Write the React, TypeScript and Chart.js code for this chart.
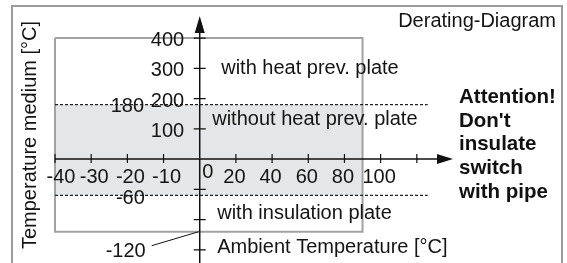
import React, { useEffect, useRef } from 'react';
import { Chart, registerables } from 'chart.js';

Chart.register(...registerables);

// ---- data ----
const xTickValues = [-40, -30, -20, -10, 20, 40, 60, 80, 100, 120];
const xTickLabels = ['-40', '-30', '-20', '-10', '20', '40', '60', '80', '100', ''];
const xOriginLabel = '0';
const yTickValues = [400, 300, 200, 100];
const yTickLabels = ['400', '300', '200', '100'];
const yMinorTickValues = [-50, -100, -150];
const bandLimits = [180, -60];
const bandLabels = ['180', '-60'];
const boxXRange = [-40, 90];
const boxYRange = [400, -120];
const boxBottomLabel = '-120';
const dashedXRange = [-40, 126];
const axisXRange = [-40, 140];
const axisYTop = 473;
const regionLabels = ['with heat prev. plate', 'without heat prev. plate', 'with insulation plate'];
const xAxisTitle = 'Ambient Temperature [°C]';
const yAxisTitle = 'Temperature medium [°C]';
const chartTitle = 'Derating-Diagram';
const warningLines = ['Attention!', "Don't", 'insulate', 'switch', 'with pipe'];

// schematic (non-linear) scale mapping of the drawing
const toPosX = (v: number) => (v < 0 ? v / 10 : v / 20);
const toPosY = (v: number) => (v >= 0 ? v / 100 : v / 50);

const FONT = "'Liberation Sans', Arial, sans-serif";
const TEXT = '#141414';
const FS = 20;

const drawPlugin = {
  id: 'derating',
  afterDatasetsDraw(chart: any) {
    const { ctx } = chart;
    const xs = chart.scales.x;
    const ys = chart.scales.y;
    const px = (v: number) => xs.getPixelForValue(toPosX(v));
    const py = (v: number) => ys.getPixelForValue(toPosY(v));
    const x0 = px(0);
    const y0 = py(0);
    ctx.save();
    // axes
    ctx.strokeStyle = '#111';
    ctx.fillStyle = '#111';
    ctx.lineWidth = 1.5;
    const xEnd = px(axisXRange[1]);
    const yTop = py(axisYTop);
    ctx.beginPath();
    ctx.moveTo(px(axisXRange[0]), y0);
    ctx.lineTo(xEnd - 14, y0);
    ctx.moveTo(x0, chart.height + 2);
    ctx.lineTo(x0, yTop + 14);
    ctx.stroke();
    // arrow heads
    ctx.beginPath();
    ctx.moveTo(xEnd, y0);
    ctx.lineTo(xEnd - 16, y0 - 5);
    ctx.lineTo(xEnd - 16, y0 + 5);
    ctx.closePath();
    ctx.fill();
    ctx.beginPath();
    ctx.moveTo(x0, yTop);
    ctx.lineTo(x0 - 5, yTop + 17);
    ctx.lineTo(x0 + 5, yTop + 17);
    ctx.closePath();
    ctx.fill();
    // ticks
    ctx.lineWidth = 1.2;
    ctx.beginPath();
    xTickValues.forEach((v) => {
      const x = px(v);
      ctx.moveTo(x, y0 - 5);
      ctx.lineTo(x, y0 + 4);
    });
    [...yTickValues, ...yMinorTickValues].forEach((v) => {
      const y = py(v);
      ctx.moveTo(x0 - 6, y);
      ctx.lineTo(x0 + 6, y);
    });
    ctx.stroke();
    // leader line for -120
    const yb = py(boxYRange[1]);
    ctx.lineWidth = 1;
    ctx.beginPath();
    ctx.moveTo(x0 - 48, yb + 14);
    ctx.lineTo(x0 - 1, yb);
    ctx.stroke();

    // tick labels
    ctx.fillStyle = TEXT;
    ctx.font = `${FS}px ${FONT}`;
    ctx.textBaseline = 'middle';
    xTickValues.forEach((v, i) => {
      const lbl = xTickLabels[i];
      if (!lbl) return;
      const x = px(v);
      ctx.textAlign = 'center';
      if (i === 0) {
        ctx.fillText(lbl, x + 6, y0 + 18.5);
      } else {
        ctx.fillText(lbl, v < 0 ? x + 3 : x - 1.5, y0 + 18.5);
      }
    });
    ctx.textAlign = 'center';
    ctx.fillText(xOriginLabel, x0 + 8, y0 + 13.5);
    ctx.textAlign = 'right';
    yTickValues.forEach((v, i) => {
      ctx.fillText(yTickLabels[i], x0 - 15.5, py(v) + 2.5);
    });
    // band labels
    ctx.textAlign = 'center';
    ctx.fillText(bandLabels[0], px(-20), py(bandLimits[0]) + 2);
    ctx.fillText(bandLabels[1], px(-20) + 3, py(bandLimits[1]) + 3);
    // -120
    ctx.textAlign = 'right';
    ctx.textBaseline = 'alphabetic';
    ctx.fillText(boxBottomLabel, x0 - 54, yb + 25);
    // region labels
    ctx.textAlign = 'left';
    ctx.fillText(regionLabels[0], x0 + 21.5, y0 - 85);
    ctx.fillText(regionLabels[1], x0 + 12.5, y0 - 34);
    ctx.fillText(regionLabels[2], x0 + 17.5, y0 + 60);
    ctx.fillText(xAxisTitle, x0 + 17.5, y0 + 94);
    ctx.restore();
  },
  afterDraw(chart: any) {
    const { ctx } = chart;
    ctx.save();
    // outer frame
    ctx.strokeStyle = '#9b9b9b';
    ctx.lineWidth = 2;
    ctx.strokeRect(12, 6, 550, chart.height + 20);
    ctx.fillStyle = TEXT;
    ctx.font = `${FS}px ${FONT}`;
    ctx.textAlign = 'right';
    ctx.textBaseline = 'alphabetic';
    ctx.fillText(chartTitle, 556, 27);
    // y axis title
    ctx.save();
    ctx.translate(30, 135);
    ctx.rotate(-Math.PI / 2);
    ctx.textAlign = 'center';
    ctx.textBaseline = 'middle';
    ctx.fillText(yAxisTitle, 0, 0);
    ctx.restore();
    // warning
    ctx.font = `bold 20.5px ${FONT}`;
    ctx.textAlign = 'left';
    ctx.fillStyle = '#111';
    warningLines.forEach((l, i) => {
      ctx.fillText(l, 459, 103 + i * 23.7);
    });
    ctx.restore();
  },
};

export default function App() {
  const ref = useRef<HTMLCanvasElement | null>(null);
  useEffect(() => {
    if (!ref.current) return;
    const pt = (x: number, y: number) => ({ x: toPosX(x), y: toPosY(y) });
    const chart = new Chart(ref.current, {
      type: 'line',
      data: {
        datasets: [
          {
            label: 'band',
            data: [pt(boxXRange[0], bandLimits[0]), pt(boxXRange[1], bandLimits[0])],
            fill: '+1',
            backgroundColor: '#e5e6e7',
            borderColor: 'transparent',
            borderWidth: 0,
            pointRadius: 0,
            order: 10,
            clip: false,
          } as any,
          {
            label: 'bandBottom',
            data: [pt(boxXRange[0], bandLimits[1]), pt(boxXRange[1], bandLimits[1])],
            fill: false,
            borderColor: 'transparent',
            borderWidth: 0,
            pointRadius: 0,
            order: 10,
            clip: false,
          } as any,
          {
            label: 'box',
            data: [
              pt(boxXRange[0], boxYRange[0]),
              pt(boxXRange[1], boxYRange[0]),
              pt(boxXRange[1], boxYRange[1]),
              pt(boxXRange[0], boxYRange[1]),
              pt(boxXRange[0], boxYRange[0]),
            ],
            fill: false,
            borderColor: '#a2a2a2',
            borderWidth: 2,
            pointRadius: 0,
            order: 5,
            clip: false,
          } as any,
          {
            label: 'upper limit',
            data: [pt(dashedXRange[0], bandLimits[0]), pt(dashedXRange[1], bandLimits[0])],
            fill: false,
            borderColor: '#222',
            borderWidth: 1.2,
            borderDash: [3, 2],
            pointRadius: 0,
            order: 1,
            clip: false,
          } as any,
          {
            label: 'lower limit',
            data: [pt(dashedXRange[0], bandLimits[1]), pt(dashedXRange[1], bandLimits[1])],
            fill: false,
            borderColor: '#222',
            borderWidth: 1.2,
            borderDash: [3, 2],
            pointRadius: 0,
            order: 1,
            clip: false,
          } as any,
        ],
      },
      options: {
        animation: false,
        responsive: false,
        devicePixelRatio: 1,
        events: [],
        layout: { padding: { left: 55, right: 114, top: 16, bottom: 0 } },
        elements: { line: { tension: 0 } },
        plugins: { legend: { display: false }, tooltip: { enabled: false } },
        scales: {
          x: { type: 'linear', min: -4, max: 7, display: false },
          y: { type: 'linear', min: -3.435, max: 4.73, display: false },
        },
      },
      plugins: [drawPlugin],
    });
    return () => chart.destroy();
  }, []);
  return (
    <div style={{ position: 'absolute', left: 0, top: 0, width: 567, height: 263, overflow: 'hidden', background: '#fff' }}>
      <canvas ref={ref} width={567} height={263} style={{ display: 'block', width: 567, height: 263 }} />
    </div>
  );
}
